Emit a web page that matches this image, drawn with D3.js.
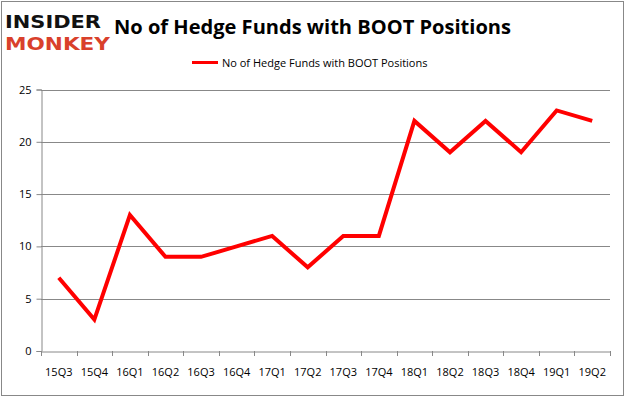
<!DOCTYPE html>
<html><head><meta charset="utf-8">
<script src="https://cdn.jsdelivr.net/npm/d3@7"></script>
<style>body{margin:0;background:#fff}svg{display:block}</style>
</head><body>
<script>
const categories = ["15Q3","15Q4","16Q1","16Q2","16Q3","16Q4","17Q1","17Q2","17Q3","17Q4","18Q1","18Q2","18Q3","18Q4","19Q1","19Q2"];
const values = [7,3,13,9,9,10,11,8,11,11,22,19,22,19,23,22];
const yTicks = [0,5,10,15,20,25];
const seriesName = "No of Hedge Funds with BOOT Positions";
const titleText = "No of Hedge Funds with BOOT Positions";

(function(){
const W = 626, H = 397;
const svg = d3.select("body").append("svg").attr("width", W).attr("height", H);
svg.append("rect").attr("x",1.5).attr("y",1.5).attr("width",622).attr("height",394)
  .attr("fill","#fff").attr("stroke","#888").attr("stroke-width",1);

const pLeft = 41, pRight = 610, pTop = 89.5, pBottom = 351;
const x = d3.scaleBand().domain(categories).range([pLeft, pRight]);
const y = d3.scaleLinear().domain([0,25]).range([pBottom, pTop]);

// gridlines
svg.append("g").selectAll("line").data(yTicks.filter(d=>d>0)).join("line")
  .attr("x1", pLeft).attr("x2", pRight)
  .attr("y1", d=>Math.round(y(d))+0.5).attr("y2", d=>Math.round(y(d))+0.5)
  .attr("stroke","#888").attr("stroke-width",1);

// y axis
const yAxis = svg.append("g").attr("transform",`translate(${pLeft+0.5},0)`)
  .call(d3.axisLeft(y).tickValues(yTicks).tickSize(5).tickPadding(5));
yAxis.select(".domain").attr("stroke","#888");
yAxis.selectAll(".tick line").attr("stroke","#888");
yAxis.selectAll(".tick text").attr("font-family","'Open Sans', sans-serif").attr("font-size",11).attr("fill","#000");

// x axis
const xAxis = svg.append("g").attr("transform",`translate(0,${pBottom+0.5})`)
  .call(d3.axisBottom(x).tickSize(0).tickPadding(17));
xAxis.select(".domain").attr("stroke","#888");
xAxis.selectAll(".tick text").attr("font-family","'Open Sans', sans-serif").attr("font-size",11).attr("fill","#000");
const bounds = [...categories.map(c=>x(c)), pRight];
svg.append("g").selectAll("line").data(bounds).join("line")
  .attr("x1", d=>Math.round(d)+0.5).attr("x2", d=>Math.round(d)+0.5)
  .attr("y1", pBottom).attr("y2", pBottom+5).attr("stroke","#888");

// line
const line = d3.line().x((d,i)=>x(categories[i])+x.bandwidth()/2).y(d=>y(d));
svg.append("path").datum(values).attr("d", line).attr("fill","none")
  .attr("stroke","#ff0000").attr("stroke-width",4).attr("stroke-linejoin","miter");

// title
svg.append("text").attr("x",114).attr("y",34).text(titleText)
  .attr("font-family","'Open Sans', sans-serif").attr("font-weight","bold").attr("font-size",20)
  .attr("textLength",397).attr("lengthAdjust","spacingAndGlyphs").attr("fill","#000");

// legend
svg.append("line").attr("x1",192).attr("x2",218).attr("y1",62.5).attr("y2",62.5)
  .attr("stroke","#ff0000").attr("stroke-width",3);
svg.append("text").attr("x",222).attr("y",66.5).text(seriesName)
  .attr("font-family","'Open Sans', sans-serif").attr("font-size",11).attr("fill","#000");

// logo
svg.append("text").attr("transform","translate(5,27.5) scale(1,1.15)").text("INSIDER")
  .attr("font-family","'DejaVu Sans', sans-serif").attr("font-weight","bold").attr("font-size",16)
  .attr("textLength",96).attr("lengthAdjust","spacingAndGlyphs").attr("fill","#111");
svg.append("text").attr("transform","translate(5,50) scale(1,1.15)").text("MONKEY")
  .attr("font-family","'DejaVu Sans', sans-serif").attr("font-weight","bold").attr("font-size",16)
  .attr("textLength",105).attr("lengthAdjust","spacingAndGlyphs").attr("fill","#d9402b");
})();
</script>
</body></html>
